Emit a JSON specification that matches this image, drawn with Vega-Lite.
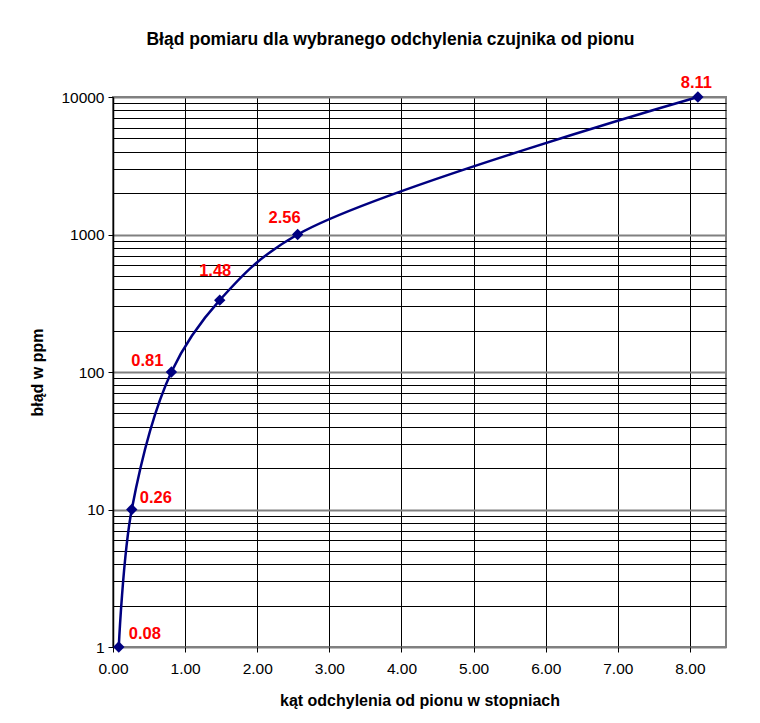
{
  "$schema": "https://vega.github.io/schema/vega-lite/v6.json",
  "autosize": {"type": "none"},
  "width": 613,
  "height": 550,
  "padding": {"left": 113, "top": 97, "right": 34, "bottom": 76},
  "background": "white",
  "config": {
    "font": "Liberation Sans",
    "view": {"stroke": "#808080", "strokeWidth": 2}
  },
  "title": {
    "text": "Błąd pomiaru dla wybranego odchylenia czujnika od pionu",
    "font": "Liberation Sans",
    "fontSize": 17.5,
    "fontWeight": "bold",
    "color": "black",
    "anchor": "middle",
    "dx": -29,
    "offset": 27
  },
  "data": {
    "values": [
      {"kat": 0.08, "blad": 1, "label": "0.08"},
      {"kat": 0.26, "blad": 10, "label": "0.26"},
      {"kat": 0.81, "blad": 100, "label": "0.81"},
      {"kat": 1.48, "blad": 333, "label": "1.48"},
      {"kat": 2.56, "blad": 1000, "label": "2.56"},
      {"kat": 8.11, "blad": 10000, "label": "8.11"}
    ]
  },
  "encoding": {
    "x": {
      "field": "kat",
      "type": "quantitative",
      "scale": {"domain": [0, 8.5], "nice": false, "zero": false},
      "axis": {
        "title": "kąt odchylenia od pionu w stopniach",
        "titleFont": "Liberation Sans",
        "titleFontSize": 16,
        "titleFontWeight": "bold",
        "titleColor": "black",
        "titlePadding": 16,
        "values": [0, 1, 2, 3, 4, 5, 6, 7, 8],
        "format": ".2f",
        "labelFontSize": 15.5,
        "labelColor": "black",
        "labelPadding": 9,
        "labelFlush": false,
        "tickColor": "black",
        "tickSize": 5,
        "domain": false,
        "grid": true,
        "gridColor": "black",
        "gridWidth": 1,
        "gridOpacity": 1
      }
    },
    "y": {
      "field": "blad",
      "type": "quantitative",
      "scale": {"type": "log", "domain": [1, 10000], "nice": false},
      "axis": {
        "title": "błąd w ppm",
        "titleFont": "Liberation Sans",
        "titleFontSize": 16,
        "titleFontWeight": "bold",
        "titleColor": "black",
        "titlePadding": 15,
        "values": [1, 2, 3, 4, 5, 6, 7, 8, 9, 10, 20, 30, 40, 50, 60, 70, 80, 90, 100, 200, 300, 400, 500, 600, 700, 800, 900, 1000, 2000, 3000, 4000, 5000, 6000, 7000, 8000, 9000, 10000],
        "labelExpr": "indexof([1, 10, 100, 1000, 10000], datum.value) >= 0 ? format(datum.value, 'd') : ''",
        "labelFontSize": 15.5,
        "labelColor": "black",
        "labelPadding": 4,
        "labelFlush": false,
        "labelOverlap": false,
        "tickSize": 5,
        "tickColor": "black",
        "tickOpacity": {"condition": {"test": "indexof([1, 10, 100, 1000, 10000], datum.value) >= 0", "value": 1}, "value": 0},
        "domain": true,
        "domainColor": "black",
        "domainWidth": 1.5,
        "grid": true,
        "gridColor": {"condition": {"test": "indexof([1, 10, 100, 1000, 10000], datum.value) >= 0", "value": "#808080"}, "value": "black"},
        "gridWidth": {"condition": {"test": "indexof([1, 10, 100, 1000, 10000], datum.value) >= 0", "value": 2}, "value": 1},
        "gridOpacity": 1
      }
    }
  },
  "layer": [
    {
      "mark": {"type": "line", "color": "#000080", "strokeWidth": 2.5, "interpolate": "catmull-rom"}
    },
    {
      "mark": {"type": "point", "shape": "diamond", "filled": true, "color": "#000080", "opacity": 1, "size": 130}
    },
    {
      "transform": [{"filter": "datum.label == '0.08'"}],
      "mark": {"type": "text", "color": "#FF0000", "fontWeight": "bold", "fontSize": 16.5, "align": "left", "baseline": "middle", "dx": 10, "dy": -13},
      "encoding": {"text": {"field": "label"}}
    },
    {
      "transform": [{"filter": "datum.label == '0.26'"}],
      "mark": {"type": "text", "color": "#FF0000", "fontWeight": "bold", "fontSize": 16.5, "align": "left", "baseline": "middle", "dx": 8, "dy": -12},
      "encoding": {"text": {"field": "label"}}
    },
    {
      "transform": [{"filter": "datum.label == '0.81'"}],
      "mark": {"type": "text", "color": "#FF0000", "fontWeight": "bold", "fontSize": 16.5, "align": "right", "baseline": "middle", "dx": -8, "dy": -11},
      "encoding": {"text": {"field": "label"}}
    },
    {
      "transform": [{"filter": "datum.label == '1.48'"}],
      "mark": {"type": "text", "color": "#FF0000", "fontWeight": "bold", "fontSize": 16.5, "align": "center", "baseline": "middle", "dx": -4.5, "dy": -29},
      "encoding": {"text": {"field": "label"}}
    },
    {
      "transform": [{"filter": "datum.label == '2.56'"}],
      "mark": {"type": "text", "color": "#FF0000", "fontWeight": "bold", "fontSize": 16.5, "align": "center", "baseline": "middle", "dx": -13, "dy": -17},
      "encoding": {"text": {"field": "label"}}
    },
    {
      "transform": [{"filter": "datum.label == '8.11'"}],
      "mark": {"type": "text", "color": "#FF0000", "fontWeight": "bold", "fontSize": 16.5, "align": "center", "baseline": "middle", "dx": -1.5, "dy": -14},
      "encoding": {"text": {"field": "label"}}
    }
  ]
}
